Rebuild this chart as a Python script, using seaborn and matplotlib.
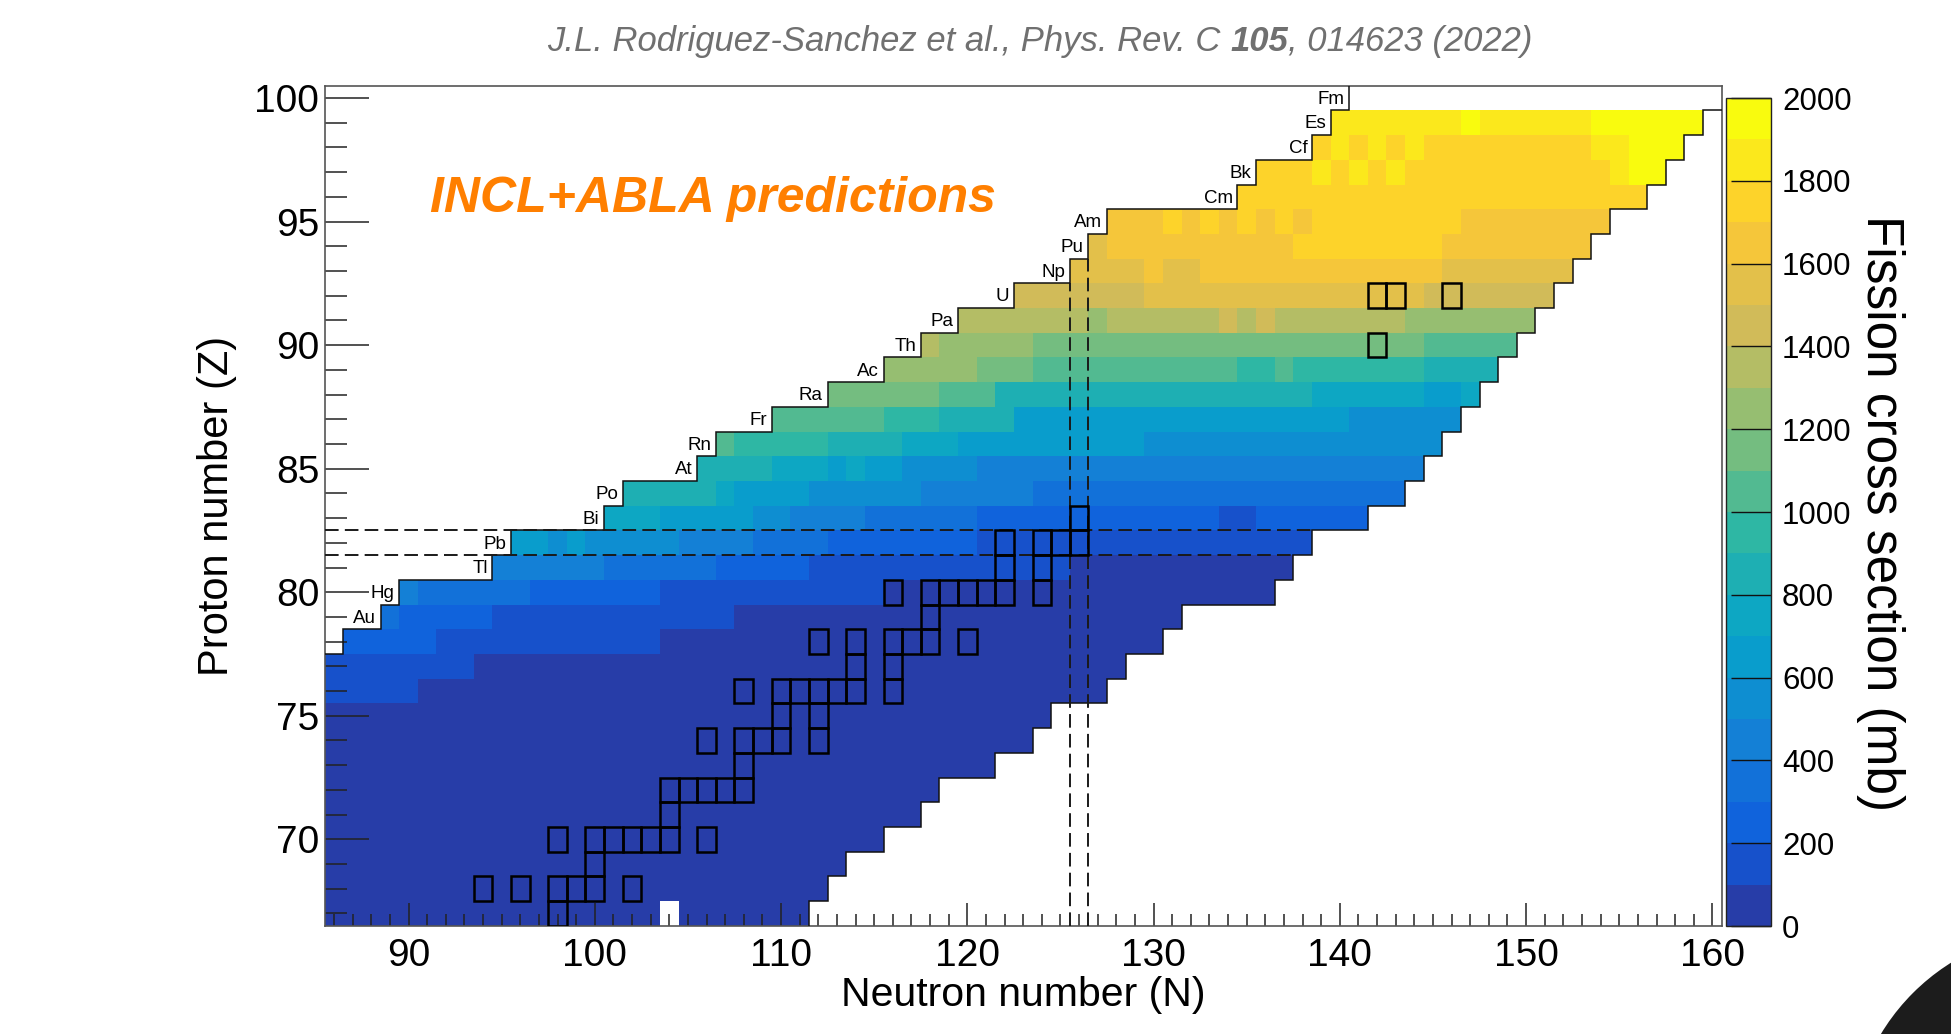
import numpy as np
import pandas as pd
import matplotlib
matplotlib.use("Agg")
import matplotlib.pyplot as plt
import seaborn as sns
from matplotlib.colors import ListedColormap, BoundaryNorm
from matplotlib.patches import Rectangle, Ellipse

# ---------------------------------------------------------------------------
# Fission cross sections (mb) per isotopic chain: runs of (N first, N last, sigma)
# ---------------------------------------------------------------------------
ROW_Z67 = [(86, 103, 50), (105, 111, 50)]
ROW_Z68 = [(86, 112, 50)]
ROW_Z69 = [(86, 113, 50)]
ROW_Z70 = [(86, 115, 50)]
ROW_Z71 = [(86, 117, 50)]
ROW_Z72 = [(86, 118, 50)]
ROW_Z73 = [(86, 121, 50)]
ROW_Z74 = [(86, 123, 50)]
ROW_Z75 = [(86, 124, 50)]
ROW_Z76 = [(86, 90, 150), (91, 127, 50)]
ROW_Z77 = [(86, 93, 150), (94, 128, 50)]
ROW_Z78 = [(87, 91, 250), (92, 103, 150), (104, 130, 50)]
ROW_Z79 = [(89, 89, 350), (90, 94, 250), (95, 107, 150), (108, 131, 50)]
ROW_Z80 = [(90, 90, 450), (91, 96, 350), (97, 103, 250), (104, 115, 150), (116, 136, 50)]
ROW_Z81 = [(95, 100, 450), (101, 106, 350), (107, 111, 250), (112, 125, 150), (126, 137, 50)]
ROW_Z82 = [(96, 97, 650), (98, 98, 550), (99, 99, 650), (100, 104, 550), (105, 108, 450),
           (109, 112, 350), (113, 120, 250), (121, 138, 150)]
ROW_Z83 = [(101, 103, 750), (104, 108, 650), (109, 110, 550), (111, 114, 450), (115, 120, 350),
           (121, 133, 250), (134, 135, 150), (136, 141, 250)]
ROW_Z84 = [(102, 106, 850), (107, 107, 750), (108, 111, 650), (112, 117, 550), (118, 123, 450),
           (124, 143, 350)]
ROW_Z85 = [(106, 109, 850), (110, 112, 750), (113, 113, 650), (114, 114, 750), (115, 116, 650),
           (117, 120, 550), (121, 144, 450)]
ROW_Z86 = [(107, 107, 1050), (108, 112, 950), (113, 116, 850), (117, 119, 750), (120, 129, 650),
           (130, 145, 550)]
ROW_Z87 = [(110, 115, 1050), (116, 118, 950), (119, 122, 850), (123, 140, 650), (141, 146, 550)]
ROW_Z88 = [(113, 118, 1150), (119, 121, 1050), (122, 138, 850), (139, 144, 750), (145, 146, 650),
           (147, 147, 750)]
ROW_Z89 = [(116, 120, 1250), (121, 123, 1150), (124, 134, 1050), (135, 136, 950), (137, 137, 1050),
           (138, 144, 950), (145, 148, 850)]
ROW_Z90 = [(118, 118, 1350), (119, 123, 1250), (124, 144, 1150), (145, 149, 1050)]
ROW_Z91 = [(120, 126, 1350), (127, 127, 1250), (128, 133, 1350), (134, 134, 1450), (135, 135, 1350),
           (136, 136, 1450), (137, 143, 1350), (144, 150, 1250)]
ROW_Z92 = [(123, 129, 1450), (130, 144, 1550), (145, 151, 1450)]
ROW_Z93 = [(126, 129, 1550), (130, 130, 1650), (131, 132, 1550), (133, 145, 1650), (146, 152, 1550)]
ROW_Z94 = [(127, 127, 1550), (128, 137, 1650), (138, 145, 1750), (146, 153, 1650)]
ROW_Z95 = [(128, 130, 1650), (131, 131, 1750), (132, 132, 1650), (133, 133, 1750), (134, 134, 1650),
           (135, 135, 1750), (136, 136, 1650), (137, 137, 1750), (138, 138, 1650), (139, 146, 1750),
           (147, 154, 1650)]
ROW_Z96 = [(135, 156, 1750)]
ROW_Z97 = [(136, 138, 1750), (139, 139, 1850), (140, 140, 1750), (141, 141, 1850), (142, 142, 1750),
           (143, 143, 1850), (144, 154, 1750), (155, 155, 1850), (156, 157, 1950)]
ROW_Z98 = [(139, 139, 1750), (140, 140, 1850), (141, 141, 1750), (142, 142, 1850), (143, 143, 1750),
           (144, 144, 1850), (145, 153, 1750), (154, 155, 1850), (156, 158, 1950)]
ROW_Z99 = [(140, 146, 1850), (147, 147, 1950), (148, 153, 1850), (154, 159, 1950)]

# Nuclei outlined with a black frame
MEASURED_Z = [67, 68, 68, 68, 68, 68, 68, 69, 70, 70, 70, 70, 70, 70, 70, 71,
              72, 72, 72, 72, 72, 73, 74, 74, 74, 74, 74, 75, 75,
              76, 76, 76, 76, 76, 76, 76, 77, 77, 78, 78, 78, 78, 78, 78, 79,
              80, 80, 80, 80, 80, 80, 80, 81, 81, 82, 82, 82, 82, 83,
              90, 92, 92, 92]
MEASURED_N = [98, 94, 96, 98, 99, 100, 102, 100, 98, 100, 101, 102, 103, 104, 106, 104,
              104, 105, 106, 107, 108, 108, 106, 108, 109, 110, 112, 110, 112,
              108, 110, 111, 112, 113, 114, 116, 114, 116, 112, 114, 116, 117, 118, 120, 118,
              116, 118, 119, 120, 121, 122, 124, 122, 124, 122, 124, 125, 126, 126,
              142, 142, 143, 146]

# Element names along the proton-rich edge
ELEMENT_Z = list(range(79, 101))
ELEMENT_SYMBOL = ["Au", "Hg", "Tl", "Pb", "Bi", "Po", "At", "Rn", "Fr", "Ra", "Ac",
                  "Th", "Pa", "U", "Np", "Pu", "Am", "Cm", "Bk", "Cf", "Es", "Fm"]
ELEMENT_FIRST_N = [89, 90, 95, 96, 101, 102, 106, 107, 110, 113, 116, 118, 120, 123,
                   126, 127, 128, 135, 136, 139, 140, 141]

# Shell closures marked with dashed lines
MAGIC_Z = 82
MAGIC_N = 126

# Colour scale and axis ticks
SIGMA_LEVELS = list(range(0, 2001, 100))
CBAR_TICKS = list(range(0, 2001, 200))
N_TICKS = list(range(90, 161, 10))
Z_TICKS = list(range(70, 101, 5))

ROWS = {67: ROW_Z67, 68: ROW_Z68, 69: ROW_Z69, 70: ROW_Z70, 71: ROW_Z71, 72: ROW_Z72,
        73: ROW_Z73, 74: ROW_Z74, 75: ROW_Z75, 76: ROW_Z76, 77: ROW_Z77, 78: ROW_Z78,
        79: ROW_Z79, 80: ROW_Z80, 81: ROW_Z81, 82: ROW_Z82, 83: ROW_Z83, 84: ROW_Z84,
        85: ROW_Z85, 86: ROW_Z86, 87: ROW_Z87, 88: ROW_Z88, 89: ROW_Z89, 90: ROW_Z90,
        91: ROW_Z91, 92: ROW_Z92, 93: ROW_Z93, 94: ROW_Z94, 95: ROW_Z95, 96: ROW_Z96,
        97: ROW_Z97, 98: ROW_Z98, 99: ROW_Z99}

N_MIN, N_MAX = 86, 160
Z_MIN, Z_MAX = 67, 100

# ---------------------------------------------------------------------------
# Table of the chart (rows: Z descending, columns: N)
# ---------------------------------------------------------------------------
n_cols = list(range(N_MIN, N_MAX + 1))
z_rows = list(range(Z_MAX, Z_MIN - 1, -1))
table = pd.DataFrame(np.nan, index=z_rows, columns=n_cols)
for z, runs in ROWS.items():
    for n0, n1, sigma in runs:
        table.loc[z, n0:n1] = sigma
table.index.name = "Z"
table.columns.name = "N"

last_n = {z: runs[-1][1] for z, runs in ROWS.items()}
edge_first = {z: runs[0][0] for z, runs in ROWS.items()}
edge_first.update({z: n for z, n in zip(ELEMENT_Z, ELEMENT_FIRST_N)})


def fx(n):
    """Neutron number -> heatmap x coordinate."""
    return n - (N_MIN - 0.5)


def fy(z):
    """Proton number -> heatmap y coordinate (rows run top-down)."""
    return (Z_MAX + 0.5) - z


# ROOT "kBird" palette sampled on 20 contour levels
stops = [0.0, 0.125, 0.25, 0.375, 0.5, 0.625, 0.75, 0.875, 1.0]
red = [0.2082, 0.0592, 0.0780, 0.0232, 0.1802, 0.5301, 0.8186, 0.9956, 0.9764]
green = [0.1664, 0.3599, 0.5041, 0.6419, 0.7178, 0.7492, 0.7328, 0.7862, 0.9832]
blue = [0.5293, 0.8684, 0.8385, 0.7914, 0.6425, 0.4662, 0.3499, 0.1968, 0.0539]
n_levels = len(SIGMA_LEVELS) - 1
level_colors = []
for i in range(n_levels):
    f = int((i + 0.99) * 255 / n_levels) / 254.0
    level_colors.append((np.interp(f, stops, red), np.interp(f, stops, green),
                         np.interp(f, stops, blue)))
cmap = ListedColormap(level_colors)
norm = BoundaryNorm(SIGMA_LEVELS, cmap.N)

# ---------------------------------------------------------------------------
# Figure
# ---------------------------------------------------------------------------
plt.rcParams["font.family"] = ["Liberation Sans", "DejaVu Sans"]
W, H = 1951, 1034
fig = plt.figure(figsize=(W / 100, H / 100), dpi=100)
fig.patch.set_facecolor("white")

ax = fig.add_axes([324.7 / W, 1 - 925.8 / H, (1721.7 - 324.7) / W, (925.8 - 85.7) / H])
cax = fig.add_axes([1726 / W, 1 - 926 / H, 45 / W, (926 - 98) / H])

sns.heatmap(table, ax=ax, cmap=cmap, norm=norm, cbar=True, cbar_ax=cax,
            xticklabels=False, yticklabels=False, linewidths=0)

ax.set_xlim(0, len(n_cols))
ax.set_ylim(len(z_rows), 0)
ax.set_xlabel("")
ax.set_ylabel("")
for sp in ax.spines.values():
    sp.set_visible(True)
    sp.set_color("#555555")
    sp.set_linewidth(1.2)

ax.set_xticks([fx(n) for n in N_TICKS])
ax.set_xticklabels([str(n) for n in N_TICKS])
ax.set_xticks([fx(n) for n in n_cols], minor=True)
ax.set_yticks([fy(z) for z in Z_TICKS])
ax.set_yticklabels([str(z) for z in Z_TICKS], rotation=0)
ax.set_yticks([fy(z) for z in range(Z_MIN, Z_MAX + 1)], minor=True)
ax.tick_params(axis="x", which="major", direction="in", length=16.5, width=1.1,
               color="#222222", labelsize=28, pad=9, bottom=True, top=False)
ax.tick_params(axis="x", which="minor", direction="in", length=8.5, width=1.1,
               color="#222222", bottom=True, top=False)
ax.tick_params(axis="y", which="major", direction="in", length=31.5, width=1.1,
               color="#222222", labelsize=28, pad=4, left=True, right=False)
ax.tick_params(axis="y", which="minor", direction="in", length=15.8, width=1.1,
               color="#222222", left=True, right=False)

# Proton-rich edge with element names
left_pts = [(fx(N_MIN - 0.5), fy(77.5))]
for z in range(78, Z_MAX + 1):
    left_pts.append((fx(edge_first[z] - 0.5), fy(z - 0.5)))
    left_pts.append((fx(edge_first[z] - 0.5), fy(z + 0.5)))
lx, ly = zip(*left_pts)
ax.plot(lx, ly, color="#111111", lw=1.1, zorder=4, solid_joinstyle="miter")

for z, sym, n in zip(ELEMENT_Z, ELEMENT_SYMBOL, ELEMENT_FIRST_N):
    ax.text(fx(n - 0.5) - 0.25, fy(z) + 0.05, sym, ha="right", va="center",
            fontsize=13.5, color="black", zorder=5)

# Neutron-rich edge
right_pts = [(fx(N_MAX + 0.5), fy(99.5))]
for z in range(99, Z_MIN - 1, -1):
    right_pts.append((fx(last_n[z] + 0.5), fy(z + 0.5)))
    right_pts.append((fx(last_n[z] + 0.5), fy(z - 0.5)))
rx, ry = zip(*right_pts)
ax.plot(rx, ry, color="#111111", lw=1.1, zorder=4, solid_joinstyle="miter")

# Shell closures
dash = dict(color="#1a1a1a", lw=1.4, dashes=(7.0, 3.2), zorder=4)
ax.plot([fx(N_MIN - 0.5), fx(last_n[MAGIC_Z] + 0.5)], [fy(MAGIC_Z + 0.5)] * 2, **dash)
ax.plot([fx(N_MIN - 0.5), fx(last_n[MAGIC_Z - 1] + 0.5)], [fy(MAGIC_Z - 0.5)] * 2, **dash)
ax.plot([fx(MAGIC_N - 0.5)] * 2, [fy(Z_MIN - 0.5), fy(92.5)], **dash)
ax.plot([fx(MAGIC_N + 0.5)] * 2, [fy(Z_MIN - 0.5), fy(93.5)], **dash)

# Framed nuclei
for z, n in zip(MEASURED_Z, MEASURED_N):
    ax.add_patch(Rectangle((fx(n - 0.5), fy(z + 0.5)), 1, 1, fill=False,
                           edgecolor="black", lw=1.8, zorder=6))

# Colour bar
cb = ax.collections[0].colorbar
cb.set_ticks(CBAR_TICKS)
cb.set_ticklabels([str(t) for t in CBAR_TICKS])
cb.outline.set_linewidth(1.0)
cb.outline.set_edgecolor("#222222")
cax.tick_params(direction="in", length=29, width=1.0, color="#111111",
                labelsize=22.5, pad=8)
cax.minorticks_off()

# Text
fig.text(713 / W, 1 - 199 / H, "INCL+ABLA predictions", color="#FF7F00",
         fontsize=36, fontweight="bold", fontstyle="italic", ha="center", va="center")
fig.text(1023 / W, 1 - 995 / H, "Neutron number (N)", fontsize=29.5, ha="center", va="center")
fig.text(217 / W, 1 - 506 / H, "Proton number (Z)", fontsize=30, rotation=90,
         ha="center", va="center")
fig.text(1880 / W, 1 - 513 / H, "Fission cross section (mb)", fontsize=37, rotation=270,
         ha="center", va="center")

# Reference line at the top, set in three pieces to embolden the volume number
renderer = fig.canvas.get_renderer()
ref_parts = [("J.L. Rodriguez-Sanchez et al., Phys. Rev. C ", "normal"),
             ("105", "bold"),
             (", 014623 (2022)", "normal")]
ref_texts = []
for s, wgt in ref_parts:
    t = fig.text(0, 1 - 51 / H, s, fontsize=24.9, fontstyle="italic", fontweight=wgt,
                 color="#707070", ha="left", va="baseline")
    ref_texts.append(t)
widths = [t.get_window_extent(renderer).width for t in ref_texts]
x = 1040 - sum(widths) / 2
for t, w in zip(ref_texts, widths):
    t.set_x(x / W)
    x += w

# Dark corner ornament
fig.patches.append(Ellipse((2065 / W, 1 - 1145 / H), 2 * 215 / W, 2 * 215 / H,
                           transform=fig.transFigure, facecolor="#1c1c1c",
                           edgecolor="none", zorder=10))

fig.savefig("out.png", dpi=100, facecolor="white")
